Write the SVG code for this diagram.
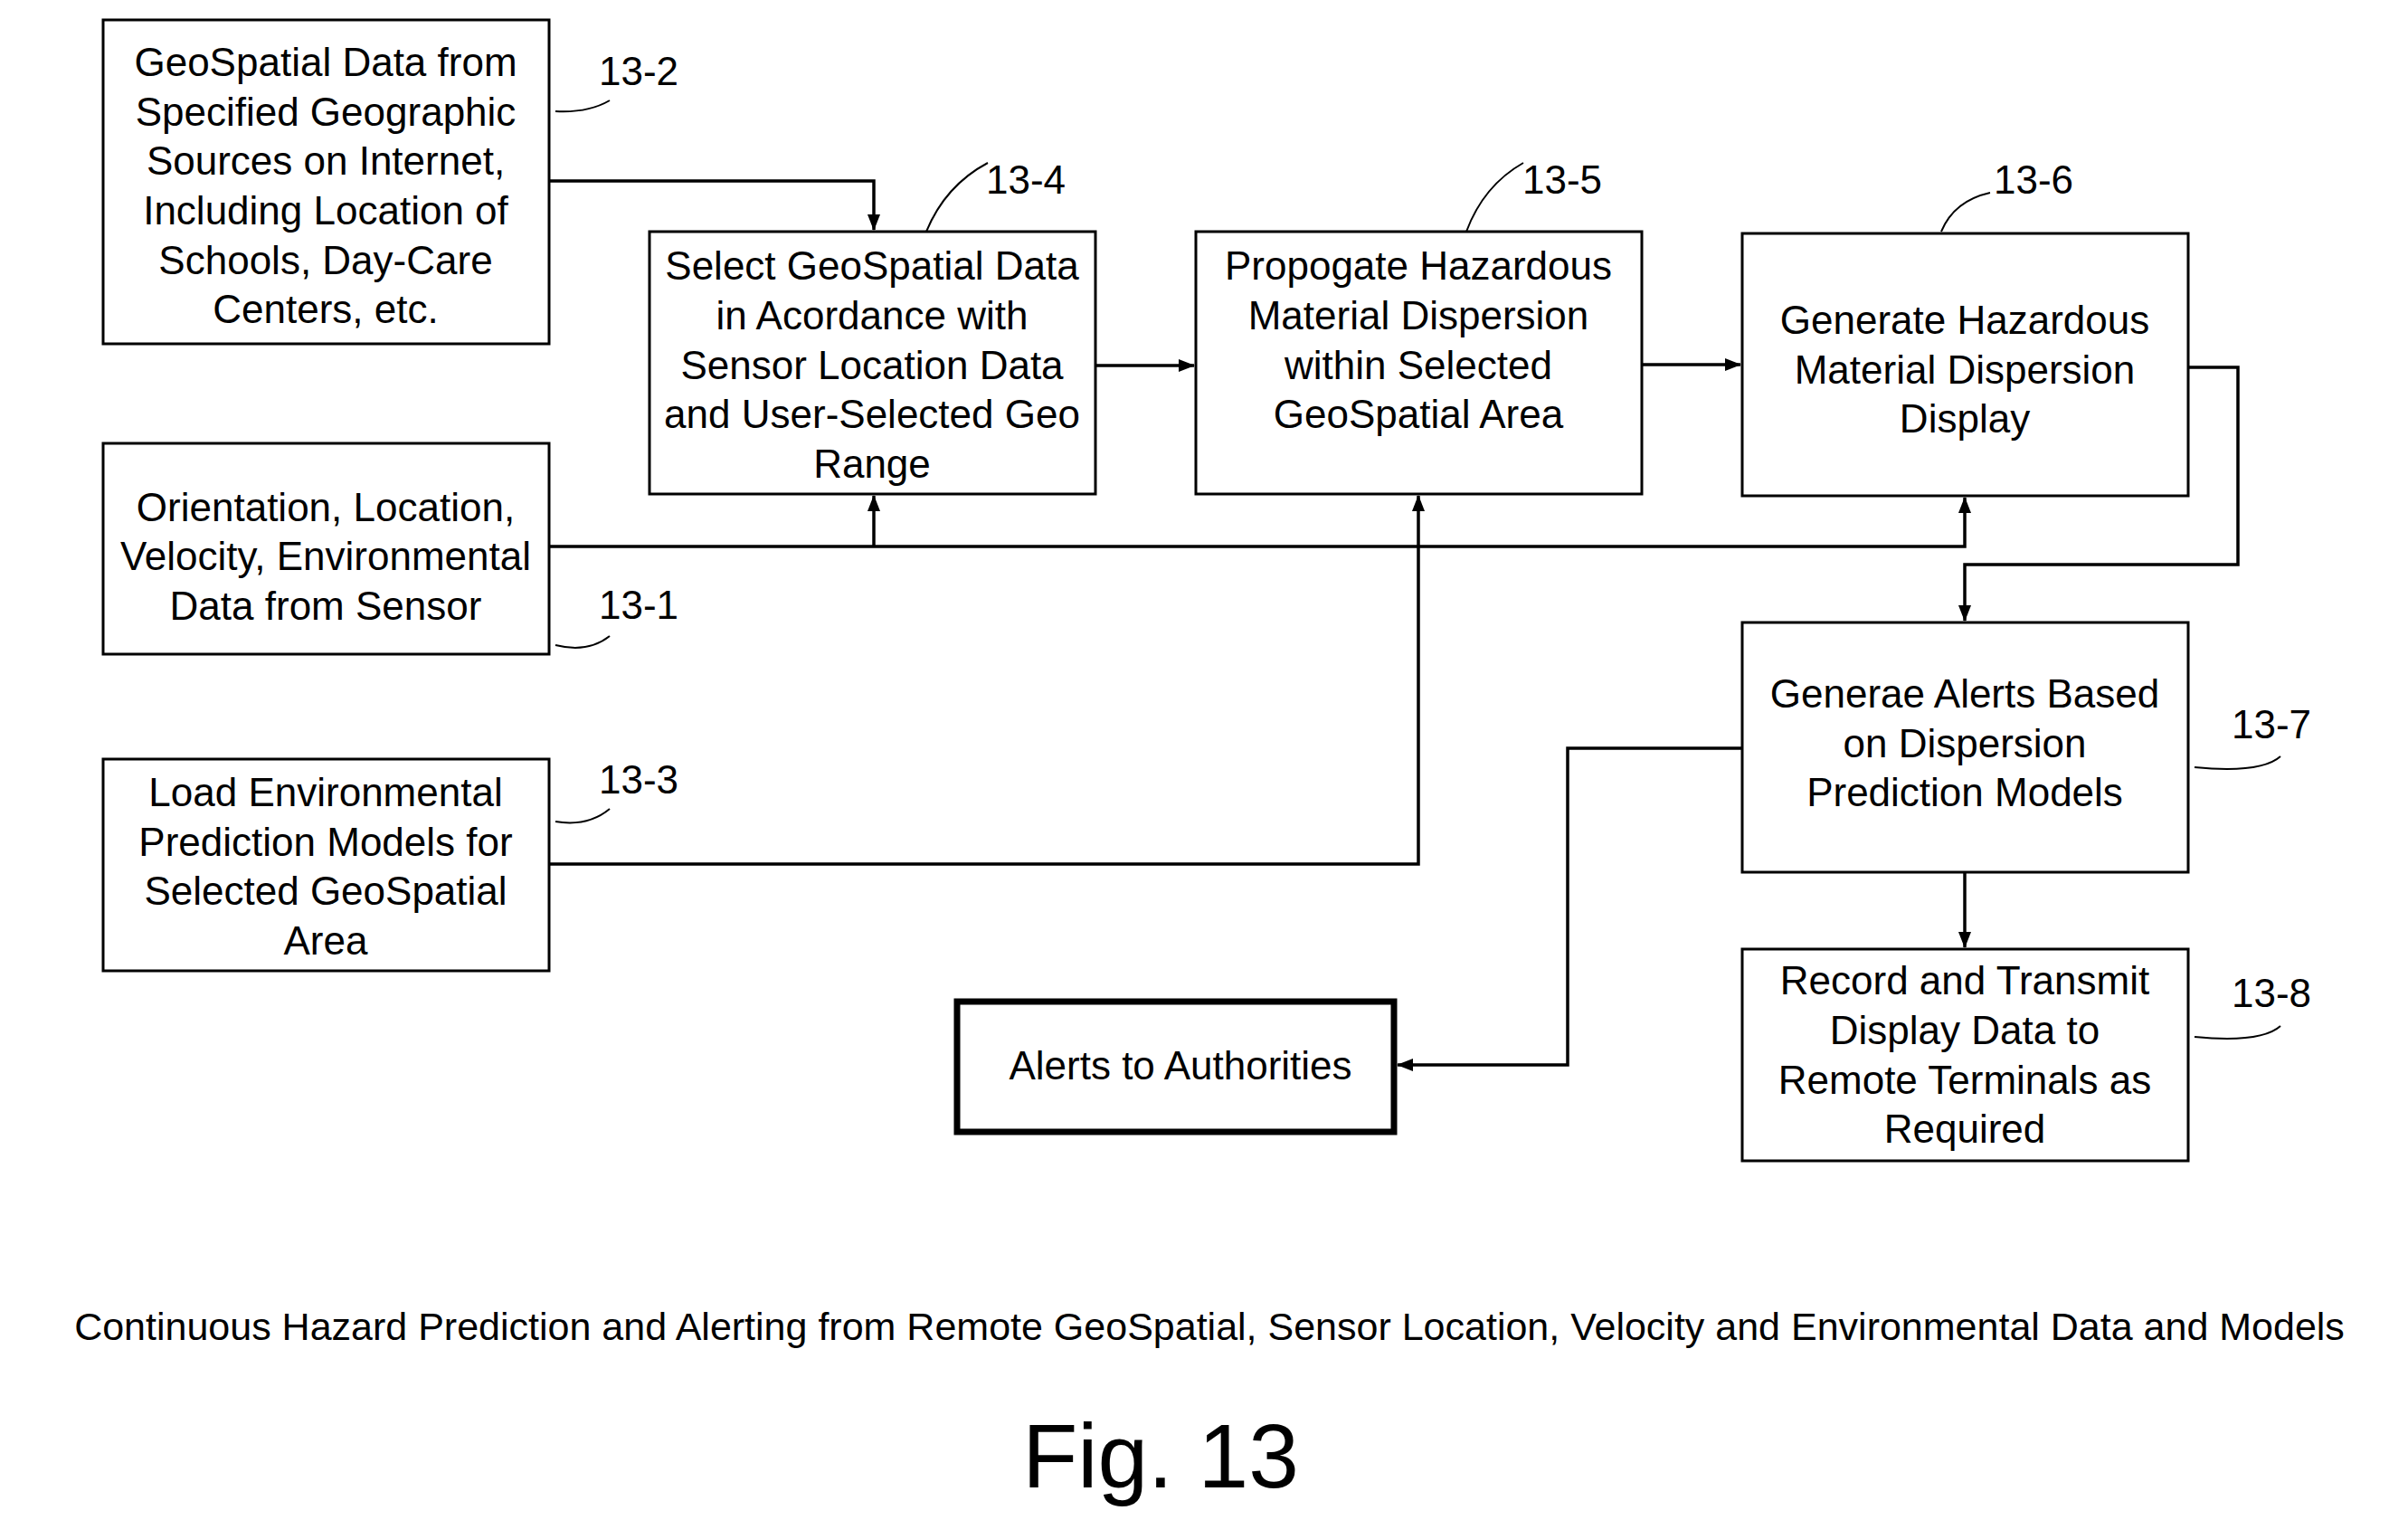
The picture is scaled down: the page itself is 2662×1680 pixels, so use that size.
<svg xmlns="http://www.w3.org/2000/svg" width="2662" height="1680" viewBox="0 0 2662 1680">
<style>
.b{fill:#fff;stroke:#000;stroke-width:3}
.t{font-family:"Liberation Sans",Arial,sans-serif;font-size:44px;text-anchor:middle;fill:#000}
.l{font-family:"Liberation Sans",Arial,sans-serif;font-size:44px;fill:#000}
.c{fill:none;stroke:#000;stroke-width:3.5}
.ld{fill:none;stroke:#000;stroke-width:2}
</style>
<defs><marker id="a" markerWidth="10" markerHeight="10" refX="9" refY="5" orient="auto" markerUnits="userSpaceOnUse" viewBox="0 0 10 10"><path d="M0,0 L10,5 L0,10 z" fill="#000"/></marker>
<marker id="ah" markerWidth="18" markerHeight="18" refX="17" refY="9" orient="auto" markerUnits="userSpaceOnUse" viewBox="0 0 18 18"><path d="M0,2 L18,9 L0,16 z" fill="#000"/></marker></defs>
<rect width="2662" height="1680" fill="#fff"/>
<g id="connectors">
<path class="c" d="M607,200 H966 V254" marker-end="url(#ah)"/>
<path class="c" d="M607,604 H2172 V550" marker-end="url(#ah)"/>
<path class="c" d="M966,604 V548" marker-end="url(#ah)"/>
<path class="c" d="M607,955 H1568 V548" marker-end="url(#ah)"/>
<path class="c" d="M1211,404 H1320" marker-end="url(#ah)"/>
<path class="c" d="M1815,403 H1924" marker-end="url(#ah)"/>
<path class="c" d="M2419,406 H2474 V624 H2172 V686" marker-end="url(#ah)"/>
<path class="c" d="M2172,964 V1047" marker-end="url(#ah)"/>
<path class="c" d="M1926,827 H1733 V1177 H1545" marker-end="url(#ah)"/>
<path class="ld" d="M614,123 Q650,125 674,111"/>
<path class="ld" d="M1024,256 Q1045,205 1092,180"/>
<path class="ld" d="M1621,256 Q1640,205 1684,180"/>
<path class="ld" d="M2146,256 Q2160,222 2200,213"/>
<path class="ld" d="M614,713 Q650,722 674,703"/>
<path class="ld" d="M614,908 Q650,914 674,894"/>
<path class="ld" d="M2426,848 Q2500,855 2521,836"/>
<path class="ld" d="M2426,1146 Q2500,1153 2521,1134"/>
</g>
<g id="n13-2"><rect class="b" x="114" y="22" width="493" height="358"/>
<text class="t" x="360" y="84">GeoSpatial Data from</text><text class="t" x="360" y="139">Specified Geographic</text><text class="t" x="360" y="193">Sources on Internet,</text><text class="t" x="360" y="248">Including Location of</text><text class="t" x="360" y="303">Schools, Day-Care</text><text class="t" x="360" y="357">Centers, etc.</text>
<text class="l" x="662" y="94">13-2</text></g>
<g id="n13-4"><rect class="b" x="718" y="256" width="493" height="290"/>
<text class="t" x="964" y="309">Select GeoSpatial Data</text><text class="t" x="964" y="364">in Acordance with</text><text class="t" x="964" y="419">Sensor Location Data</text><text class="t" x="964" y="473">and User-Selected Geo</text><text class="t" x="964" y="528">Range</text>
<text class="l" x="1090" y="214">13-4</text></g>
<g id="n13-5"><rect class="b" x="1322" y="256" width="493" height="290"/>
<text class="t" x="1568" y="309">Propogate Hazardous</text><text class="t" x="1568" y="364">Material Dispersion</text><text class="t" x="1568" y="419">within Selected</text><text class="t" x="1568" y="473">GeoSpatial Area</text>
<text class="l" x="1683" y="214">13-5</text></g>
<g id="n13-6"><rect class="b" x="1926" y="258" width="493" height="290"/>
<text class="t" x="2172" y="369">Generate Hazardous</text><text class="t" x="2172" y="424">Material Dispersion</text><text class="t" x="2172" y="478">Display</text>
<text class="l" x="2204" y="214">13-6</text></g>
<g id="n13-1"><rect class="b" x="114" y="490" width="493" height="233"/>
<text class="t" x="360" y="576">Orientation, Location,</text><text class="t" x="360" y="630">Velocity, Environmental</text><text class="t" x="360" y="685">Data from Sensor</text>
<text class="l" x="662" y="684">13-1</text></g>
<g id="n13-3"><rect class="b" x="114" y="839" width="493" height="234"/>
<text class="t" x="360" y="891">Load Environmental</text><text class="t" x="360" y="946">Prediction Models for</text><text class="t" x="360" y="1000">Selected GeoSpatial</text><text class="t" x="360" y="1055">Area</text>
<text class="l" x="662" y="877">13-3</text></g>
<g id="n13-7"><rect class="b" x="1926" y="688" width="493" height="276"/>
<text class="t" x="2172" y="782">Generae Alerts Based</text><text class="t" x="2172" y="837">on Dispersion</text><text class="t" x="2172" y="891">Prediction Models</text>
<text class="l" x="2467" y="816">13-7</text></g>
<g id="n13-8"><rect class="b" x="1926" y="1049" width="493" height="234"/>
<text class="t" x="2172" y="1099">Record and Transmit</text><text class="t" x="2172" y="1154">Display Data to</text><text class="t" x="2172" y="1209">Remote Terminals as</text><text class="t" x="2172" y="1263">Required</text>
<text class="l" x="2467" y="1113">13-8</text></g>
<g id="alerts"><rect x="1058" y="1107" width="483" height="144" fill="#fff" stroke="#000" stroke-width="7"/>
<text class="t" x="1305" y="1193">Alerts to Authorities</text></g>
<text class="t" x="1337" y="1481" style="font-size:43px">Continuous Hazard Prediction and Alerting from Remote GeoSpatial, Sensor Location, Velocity and Environmental Data and Models</text>
<text class="t" x="1283" y="1644" style="font-size:100px">Fig. 13</text>
</svg>
